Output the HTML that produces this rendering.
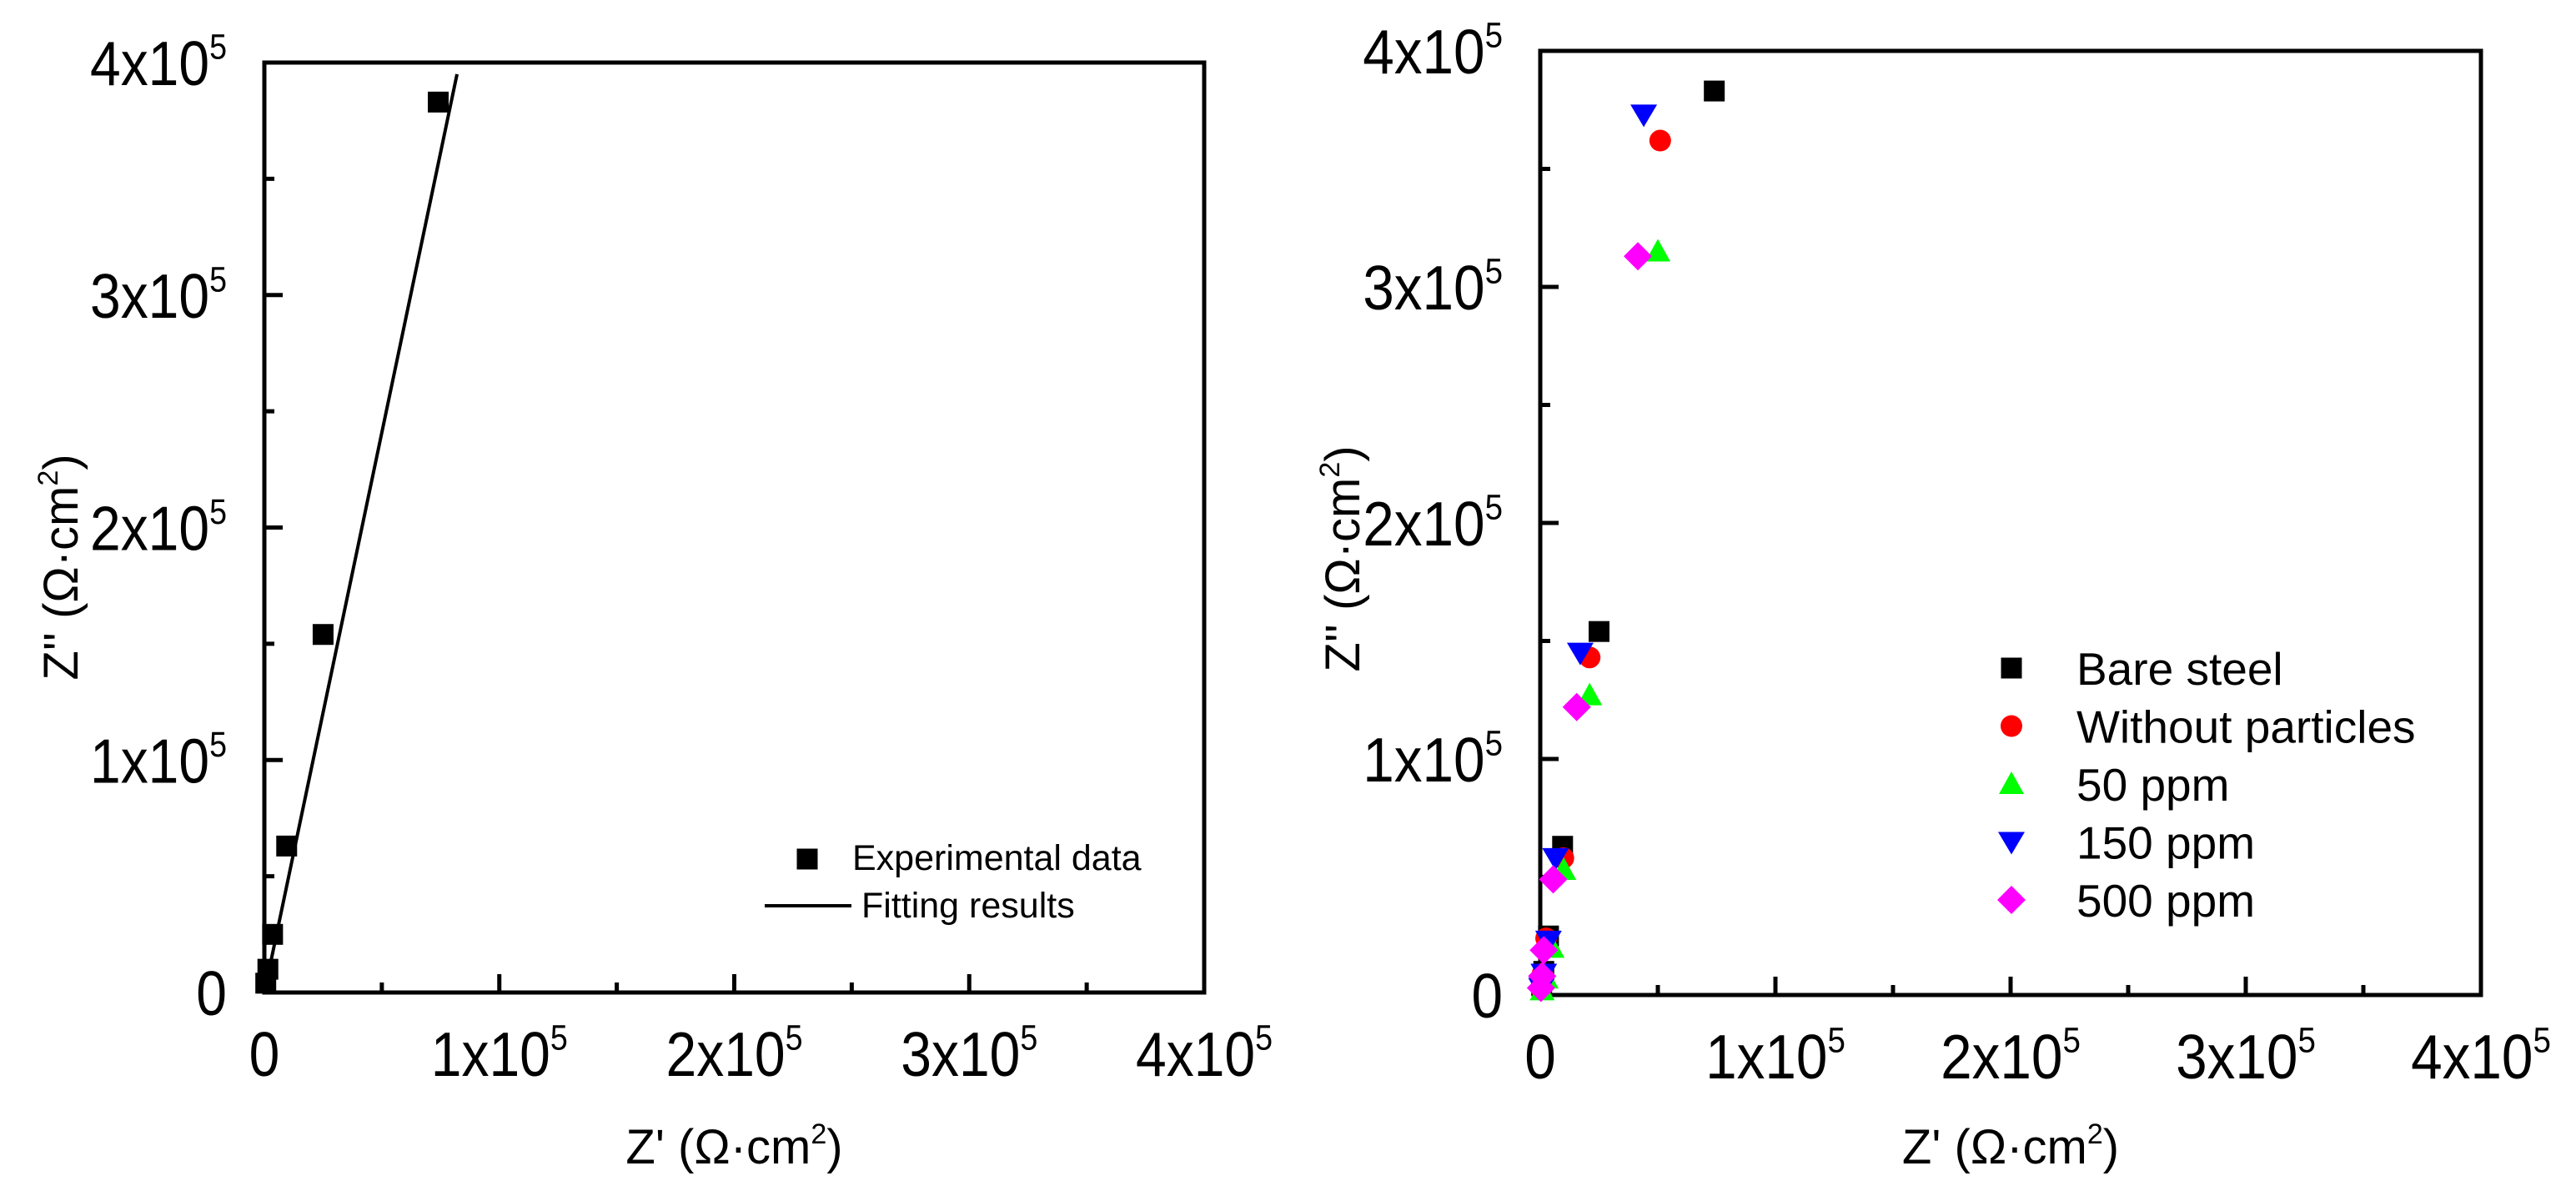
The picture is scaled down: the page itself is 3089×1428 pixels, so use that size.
<!DOCTYPE html>
<html><head><meta charset="utf-8"><style>
html,body{margin:0;padding:0;background:#fff;}
svg{display:block;font-family:"Liberation Sans",Arial,sans-serif;}
</style></head><body>
<svg id="fig" width="3089" height="1428" viewBox="0 0 3089 1428" xmlns="http://www.w3.org/2000/svg"></svg>
<script>
// ---- data ----
const xTickVals = [0, 1, 2, 3, 4];
const yTickVals = [0, 1, 2, 3, 4];
const bareX = [74000, 25000, 9500, 3500, 1500, 600];
const bareY = [383000, 154000, 63000, 25000, 10000, 4000];
const fitX = [0, 82000];
const fitY = [0, 395000];
const redX = [51000, 21000, 9800, 2500, 1000, 300];
const redY = [362000, 143000, 58000, 24000, 9000, 3000];
const greenX = [50000, 21000, 10000, 5000, 2500, 800];
const greenY = [315000, 127000, 53000, 20000, 7000, 2000];
const blueX = [44000, 17000, 6500, 3500, 1500, 500];
const blueY = [373000, 145000, 58000, 23000, 9000, 3000];
const magX = [41500, 15500, 5500, 1500, 800, 300];
const magY = [313000, 122000, 49000, 19000, 8000, 3000];
const legendLabels = ["Bare steel", "Without particles", "50 ppm", "150 ppm", "500 ppm"];

const NS = "http://www.w3.org/2000/svg";
const svg = document.getElementById('fig');
function el(tag, attrs, parent) {
  const e = document.createElementNS(NS, tag);
  for (const k in attrs) e.setAttribute(k, attrs[k]);
  (parent || svg).appendChild(e);
  return e;
}

function marker(g, shape, cx, cy, color) {
  let m;
  if (shape === 'square') m = el('rect', {x: cx-12.5, y: cy-12.5, width: 25, height: 25, fill: color}, g);
  else if (shape === 'circle') m = el('circle', {cx: cx, cy: cy, r: 13, fill: color}, g);
  else if (shape === 'up') m = el('polygon', {points: `${cx},${cy-15} ${cx+15},${cy+12} ${cx-15},${cy+12}`, fill: color}, g);
  else if (shape === 'down') m = el('polygon', {points: `${cx-16},${cy-12} ${cx+16},${cy-12} ${cx},${cy+15}`, fill: color}, g);
  else m = el('polygon', {points: `${cx},${cy-17} ${cx+17},${cy} ${cx},${cy+17} ${cx-17},${cy}`, fill: color}, g);
  return m;
}

function tickLabel(g, v, x, y, anchor, sx, fs) {
  const t = el('g', {transform: `translate(${x},${y}) scale(${sx},1)`}, g);
  
  
  const tx = el('text', {x: 0, y: 0, 'font-size': fs, 'text-anchor': anchor, fill: '#000'}, t);
  if (v === 0) { tx.textContent = '0'; return; }
  tx.appendChild(document.createTextNode(v + 'x10'));
  const s = el('tspan', {'font-size': fs*0.57, dy: -fs*0.42}, tx);
  s.textContent = '5';
}

function axes(p) {
  const g = el('g', {});
  
  
  const X = v => p.x0 + v / 4e5 * (p.x1 - p.x0);
  const Y = v => p.y0 - v / 4e5 * (p.y0 - p.y1);
  const fr = el('rect', {x: p.x0, y: p.y1, width: p.x1-p.x0, height: p.y0-p.y1, fill: 'none', stroke: '#000', 'stroke-width': 5}, g);
  
  
  for (let i = 0; i <= 8; i++) {
    const v = i * 0.5e5, L = i % 2 ? 12 : 22;
    el('line', {x1: X(v), x2: X(v), y1: p.y0, y2: p.y0 - L, stroke: '#000', 'stroke-width': 5}, g);
    el('line', {x1: p.x0, x2: p.x0 + L, y1: Y(v), y2: Y(v), stroke: '#000', 'stroke-width': 5}, g);
  }
  xTickVals.forEach(v => tickLabel(g, v, X(v*1e5), p.y0 + 100, 'middle', p.sx, p.fs));
  yTickVals.forEach(v => tickLabel(g, v, p.x0 - 45, Y(v*1e5) + 27, 'end', p.sx, p.fs));
  // titles
  const xt = el('text', {x: (p.x0+p.x1)/2, y: 1395, 'font-size': 58, 'text-anchor': 'middle'}, g);
  
  
  xt.appendChild(document.createTextNode("Z' (Ω·cm"));
  let s = el('tspan', {'font-size': 34, dy: -24}, xt); s.textContent = '2';
  s = el('tspan', {dy: 24}, xt); s.textContent = ')';
  const yt = el('text', {x: 0, y: 0, 'font-size': 58, 'text-anchor': 'middle', transform: `translate(${p.ytx},${p.yty}) rotate(-90)`}, g);
  
  
  yt.appendChild(document.createTextNode("Z'' (Ω·cm"));
  s = el('tspan', {'font-size': 34, dy: -24}, yt); s.textContent = '2';
  s = el('tspan', {dy: 24}, yt); s.textContent = ')';
  return {g, X, Y};
}

// ---- left plot ----
const L = axes({name: 'left-chart', x0: 317, x1: 1444, y0: 1190, y1: 75, sx: 0.88, fs: 75, ytx: 93, yty: 680});
const fit = el('polyline', {points: fitX.map((v, i) => `${L.X(v)},${L.Y(fitY[i])}`).join(' '), fill: 'none', stroke: '#000', 'stroke-width': 4}, L.g);


bareX.forEach((v, i) => {
  const m = marker(L.g, 'square', L.X(v), L.Y(bareY[i]), '#000');
  
  
});
const ll = el('g', {}, L.g);


marker(ll, 'square', 968, 1030, '#000');
let t = el('text', {x: 1022, y: 1043, 'font-size': 43}, ll); t.textContent = 'Experimental data';
el('line', {x1: 917, x2: 1021, y1: 1086, y2: 1086, stroke: '#000', 'stroke-width': 4}, ll);
t = el('text', {x: 1033, y: 1100, 'font-size': 43}, ll); t.textContent = 'Fitting results';

// ---- right plot ----
const R = axes({name: 'right-chart', x0: 1847, x1: 2975, y0: 1193, y1: 61, sx: 0.9, fs: 75, ytx: 1630, yty: 670});
const series = [
  {xs: bareX, ys: bareY, shape: 'square', color: '#000000'},
  {xs: redX, ys: redY, shape: 'circle', color: '#ff0000'},
  {xs: greenX, ys: greenY, shape: 'up', color: '#00ff00'},
  {xs: blueX, ys: blueY, shape: 'down', color: '#0000ff'},
  {xs: magX, ys: magY, shape: 'diamond', color: '#ff00ff'}
];
const rl = el('g', {});


series.forEach((s, k) => {
  s.xs.forEach((v, i) => {
    const m = marker(R.g, s.shape, R.X(v), R.Y(s.ys[i]), s.color);
    
    
  });
  const ly = 801 + k * 69.5;
  const lm = marker(rl, s.shape, 2412, ly, s.color);
  
  
  const lt = el('text', {x: 2490, y: ly + 20, 'font-size': 55}, rl);
  
  
  lt.textContent = legendLabels[k];
});
</script>
</body></html>
